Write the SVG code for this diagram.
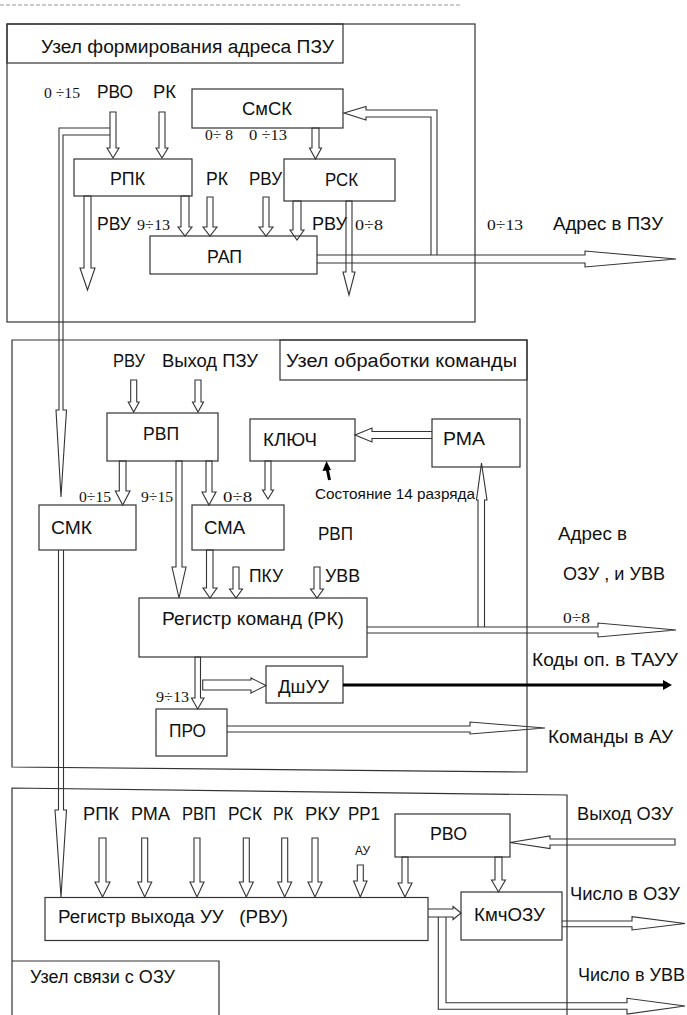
<svg xmlns="http://www.w3.org/2000/svg" width="687" height="1015" viewBox="0 0 687 1015">
<style>
.bg{fill:#fff}
.box{fill:none;stroke:#333;stroke-width:1.2}
.fr{fill:none;stroke:#333;stroke-width:1.2}
.ar{fill:none;stroke:#333;stroke-width:1.1;stroke-linejoin:miter}
.blk{stroke:#000;stroke-width:3;fill:none}
.bh{fill:#000}
text{font-family:"Liberation Sans",Arial,sans-serif;font-size:18px;fill:#111;white-space:pre}
.n{font-family:"Liberation Serif","Times New Roman",serif;font-size:15px}
.s{font-size:14px}
.xs{font-size:12px}
</style>
<rect class="bg" x="0" y="0" width="687" height="1015"/>
<line x1="0" y1="5" x2="460" y2="5" stroke="#999" stroke-width="1" stroke-dasharray="4 2"/>

<!-- Section frames -->
<g id="section1">
<rect class="fr" x="7" y="24" width="468" height="298"/>
<rect class="fr" x="7" y="24" width="336" height="39"/>
<text x="41" y="53" textLength="293" lengthAdjust="spacingAndGlyphs">Узел формирования адреса ПЗУ</text>
</g>
<g id="section2">
<path class="fr" d="M12,340 H527 V772 L12,767 Z"/>
<rect class="fr" x="280" y="340" width="247" height="40"/>
<text x="286" y="367" textLength="231" lengthAdjust="spacingAndGlyphs">Узел обработки команды</text>
</g>
<g id="section3">
<path class="fr" d="M12,1015 V788 L567,795 V1015"/>
<path class="fr" d="M12,961 H219 V1015"/>
<text x="30" y="983" textLength="145" lengthAdjust="spacingAndGlyphs">Узел связи с ОЗУ</text>
</g>

<!-- Nodes section 1 -->
<g id="SmSK"><rect class="box" x="192" y="89" width="151" height="39"/><text x="242" y="115" textLength="50" lengthAdjust="spacingAndGlyphs">СмСК</text></g>
<g id="RPK"><rect class="box" x="74" y="159" width="118" height="37"/><text x="110" y="185" textLength="35" lengthAdjust="spacingAndGlyphs">РПК</text></g>
<g id="RSK"><rect class="box" x="284" y="159" width="111" height="42"/><text x="325" y="186" textLength="33" lengthAdjust="spacingAndGlyphs">РСК</text></g>
<g id="RAP"><rect class="box" x="150" y="236" width="167" height="38"/><text x="207" y="263" textLength="35" lengthAdjust="spacingAndGlyphs">РАП</text></g>

<!-- Nodes section 2 -->
<g id="RVP"><rect class="box" x="107" y="413" width="111" height="48"/><text x="143" y="440" textLength="36" lengthAdjust="spacingAndGlyphs">РВП</text></g>
<g id="KLYUCH"><rect class="box" x="250" y="419" width="105" height="42"/><text x="263" y="446" textLength="54" lengthAdjust="spacingAndGlyphs">КЛЮЧ</text></g>
<g id="RMA"><rect class="box" x="432" y="419" width="88" height="48"/><text x="443" y="445" textLength="42" lengthAdjust="spacingAndGlyphs">РМА</text></g>
<g id="SMK"><rect class="box" x="39" y="505" width="97" height="45"/><text x="51" y="534" textLength="41" lengthAdjust="spacingAndGlyphs">СМК</text></g>
<g id="SMA"><rect class="box" x="192" y="505" width="92" height="45"/><text x="204" y="534" textLength="41" lengthAdjust="spacingAndGlyphs">СМА</text></g>
<g id="RK"><rect class="box" x="139" y="598" width="228" height="59"/><text x="162" y="625" textLength="182" lengthAdjust="spacingAndGlyphs">Регистр команд (РК)</text></g>
<g id="DshUU"><rect class="box" x="266" y="666" width="77" height="37"/><text x="278" y="693" textLength="51" lengthAdjust="spacingAndGlyphs">ДшУУ</text></g>
<g id="PRO"><rect class="box" x="156" y="709" width="71" height="47"/><text x="169" y="737" textLength="37" lengthAdjust="spacingAndGlyphs">ПРО</text></g>

<!-- Nodes section 3 -->
<g id="RVO"><rect class="box" x="395" y="814" width="115" height="43"/><text x="430" y="840" textLength="37" lengthAdjust="spacingAndGlyphs">РВО</text></g>
<g id="RVU"><rect class="box" x="45" y="897.5" width="383" height="43"/><text x="58" y="923" textLength="230" lengthAdjust="spacingAndGlyphs">Регистр выхода УУ   (РВУ)</text></g>
<g id="KmchOZU"><rect class="box" x="461" y="892" width="101" height="48"/><text x="474" y="921" textLength="71" lengthAdjust="spacingAndGlyphs">КмчОЗУ</text></g>

<!-- Labels -->
<g id="labels">
<text class="n" x="44" y="98" textLength="36" lengthAdjust="spacingAndGlyphs">0 ÷15</text>
<text x="97" y="98" textLength="36" lengthAdjust="spacingAndGlyphs">РВО</text>
<text x="153" y="98" textLength="23" lengthAdjust="spacingAndGlyphs">РК</text>
<text class="n" x="205" y="140" textLength="28" lengthAdjust="spacingAndGlyphs">0÷ 8</text>
<text class="n" x="249" y="140" textLength="38" lengthAdjust="spacingAndGlyphs">0 ÷13</text>
<text x="206" y="185" textLength="22" lengthAdjust="spacingAndGlyphs">РК</text>
<text x="249" y="185" textLength="33" lengthAdjust="spacingAndGlyphs">РВУ</text>
<text x="97" y="230" textLength="34" lengthAdjust="spacingAndGlyphs">РВУ</text>
<text class="n" x="137" y="230" textLength="33" lengthAdjust="spacingAndGlyphs">9÷13</text>
<text x="312" y="230" textLength="35" lengthAdjust="spacingAndGlyphs">РВУ</text>
<text class="n" x="355" y="230" textLength="28" lengthAdjust="spacingAndGlyphs">0÷8</text>
<text class="n" x="487" y="230" textLength="36" lengthAdjust="spacingAndGlyphs">0÷13</text>
<text x="553" y="230" textLength="110" lengthAdjust="spacingAndGlyphs">Адрес в ПЗУ</text>

<text x="113" y="367" textLength="32" lengthAdjust="spacingAndGlyphs">РВУ</text>
<text x="162" y="367" textLength="96" lengthAdjust="spacingAndGlyphs">Выход ПЗУ</text>
<text class="n" x="79" y="502" textLength="32" lengthAdjust="spacingAndGlyphs">0÷15</text>
<text class="n" x="141" y="502" textLength="32" lengthAdjust="spacingAndGlyphs">9÷15</text>
<text class="n" x="223" y="502" textLength="29" lengthAdjust="spacingAndGlyphs">0÷8</text>
<text class="s" x="315" y="499" textLength="160" lengthAdjust="spacingAndGlyphs">Состояние 14 разряда</text>
<text x="318" y="540" textLength="35" lengthAdjust="spacingAndGlyphs">РВП</text>
<text x="558" y="540" textLength="69" lengthAdjust="spacingAndGlyphs">Адрес в</text>
<text x="249" y="582" textLength="34" lengthAdjust="spacingAndGlyphs">ПКУ</text>
<text x="325" y="582" textLength="35" lengthAdjust="spacingAndGlyphs">УВВ</text>
<text x="563" y="580" textLength="102" lengthAdjust="spacingAndGlyphs">ОЗУ , и УВВ</text>
<text class="n" x="563" y="623" textLength="27" lengthAdjust="spacingAndGlyphs">0÷8</text>
<text x="532" y="666" textLength="146" lengthAdjust="spacingAndGlyphs">Коды оп. в ТАУУ</text>
<text class="n" x="156" y="702" textLength="33" lengthAdjust="spacingAndGlyphs">9÷13</text>
<text x="548" y="743" textLength="125" lengthAdjust="spacingAndGlyphs">Команды в АУ</text>

<text x="83" y="820" textLength="36" lengthAdjust="spacingAndGlyphs">РПК</text>
<text x="131" y="820" textLength="39" lengthAdjust="spacingAndGlyphs">РМА</text>
<text x="182" y="820" textLength="34" lengthAdjust="spacingAndGlyphs">РВП</text>
<text x="228" y="820" textLength="34" lengthAdjust="spacingAndGlyphs">РСК</text>
<text x="273" y="820" textLength="20" lengthAdjust="spacingAndGlyphs">РК</text>
<text x="305" y="820" textLength="35" lengthAdjust="spacingAndGlyphs">РКУ</text>
<text x="348" y="820" textLength="32" lengthAdjust="spacingAndGlyphs">РР1</text>
<text class="xs" x="355" y="855" textLength="15" lengthAdjust="spacingAndGlyphs">АУ</text>
<text x="577" y="820" textLength="96" lengthAdjust="spacingAndGlyphs">Выход ОЗУ</text>
<text x="570" y="900" textLength="110" lengthAdjust="spacingAndGlyphs">Число в ОЗУ</text>
<text x="578" y="981" textLength="107" lengthAdjust="spacingAndGlyphs">Число в УВВ</text>
</g>

<!-- Connectors -->
<g id="connectors">
<!-- section 1 -->
<path class="ar" d="M110,112 H116 V148 H119 L113,158 L107,148 H110 Z"/>
<path class="ar" d="M159,112 H165 V148 H168 L162,158 L156,148 H159 Z"/>
<path class="ar" d="M312,128 H319 V148 H321.5 L315.5,159 L309.5,148 H312 Z"/>
<path class="ar" d="M181,196 H189 V227 H192 L185,236 L178,227 H181 Z"/>
<path class="ar" d="M207,197 H213 V227 H217 L210,236 L203,227 H207 Z"/>
<path class="ar" d="M263,197 H269 V227 H273 L266,236 L259,227 H263 Z"/>
<path class="ar" d="M293,201 H301 V230 H304 L297,240 L290,230 H293 Z"/>
<path class="ar" d="M84,196 H91 V268 H95 L87.5,290 L80,268 H84 Z"/>
<path class="ar" d="M346,201 H352 V272 H355 L349,295 L343,272 H346 Z"/>
<path class="ar" d="M317,255 H585 V251 L676,259 L585,267 V263 H317"/>
<path class="ar" d="M431,255 V117 H366 V120 L344,113 L366,106.5 V110 H437 V255"/>
<path class="ar" d="M110,128 H59 V410 H56 L61,497 L66.5,410 H63 V135 H110"/>
<path class="ar" d="M58.5,550 V810 H55 L61,897 L66.5,810 H63.5 V550"/>
<!-- section 2 -->
<path class="ar" d="M130.7,380 H136.7 V402 H139.2 L133.7,412 L128.2,402 H130.7 Z"/>
<path class="ar" d="M195,380 H201 V402 H203.5 L198,412 L192.5,402 H195 Z"/>
<path class="ar" d="M119.3,461 H126 V491 H130 L122.7,505 L115.3,491 H119.3 Z"/>
<path class="ar" d="M176,461 H182 V567 H186 L179,598 L172,567 H176 Z"/>
<path class="ar" d="M206,461 H212 V492 H216 L209,505 L202,492 H206 Z"/>
<path class="ar" d="M265,461 H271 V490 H273.5 L268,499 L262.5,490 H265 Z"/>
<path class="ar" d="M432,431.5 H372 V428 L355,435 L372,442 V438.5 H432"/>
<line class="blk" x1="329.5" y1="480" x2="327" y2="468" stroke-width="2.5"/>
<polygon class="bh" points="326.5,461 322.5,471 331,470"/>
<path class="ar" d="M206.5,550 H213 V588 H217 L210,598 L203,588 H206.5 Z"/>
<path class="ar" d="M233,567 H239 V589 H242.5 L236,598 L229.5,589 H233 Z"/>
<path class="ar" d="M314,567 H320 V589 H323.5 L317,598 L310.5,589 H314 Z"/>
<path class="ar" d="M367,627 H598 V623 L676,630 L598,637 V633 H367"/>
<path class="ar" d="M478,627 V500 H476.5 L481.5,463 L487,500 H484.5 V627"/>
<path class="ar" d="M195,657 H200.5 V698 H204 L197.7,709 L191.5,698 H195 Z"/>
<path class="ar" d="M202.7,680 H251 V678 L266,685.5 L251,693 V690 H202.7 Z"/>
<line class="blk" x1="343" y1="685" x2="664" y2="685"/>
<polygon class="bh" points="663,680 672,685 663,690"/>
<path class="ar" d="M227,726 H470 V722 L545,728 L470,734 V732 H227"/>
<!-- section 3 -->
<path class="ar" d="M99,838 H106 V882 H110 L102.5,897 L95,882 H99 Z"/>
<path class="ar" d="M141.7,838 H147.7 V882 H151.7 L144.7,897 L137.7,882 H141.7 Z"/>
<path class="ar" d="M194,838 H200 V882 H204 L197,897 L190,882 H194 Z"/>
<path class="ar" d="M243.3,838 H249.3 V882 H253.3 L246.3,897 L239.3,882 H243.3 Z"/>
<path class="ar" d="M281.7,838 H287.7 V882 H291.7 L284.7,897 L277.7,882 H281.7 Z"/>
<path class="ar" d="M312,838 H318 V882 H322 L315,897 L308,882 H312 Z"/>
<path class="ar" d="M357.3,865 H363.3 V881 H367 L360.3,897 L353.6,881 H357.3 Z"/>
<path class="ar" d="M402,857 H408 V883 H412 L405,897 L398,883 H402 Z"/>
<path class="ar" d="M495,857 H502 V880 H505.5 L498.5,892 L491.5,880 H495 Z"/>
<path class="ar" d="M675,839 V845 H550 V848.5 L510,842.5 L550,836 V839 Z"/>
<path class="ar" d="M428,909 H453 V906.5 L461,913 L453,919.5 V917 H428"/>
<path class="ar" d="M438.3,917 V1009.3 H627 V1014 L685,1006 L627,998.3 V1002.7 H446 V917"/>
<path class="ar" d="M562,921 H632 V916.7 L685,923.5 L632,930 V926.7 H562"/>
</g>
</svg>
